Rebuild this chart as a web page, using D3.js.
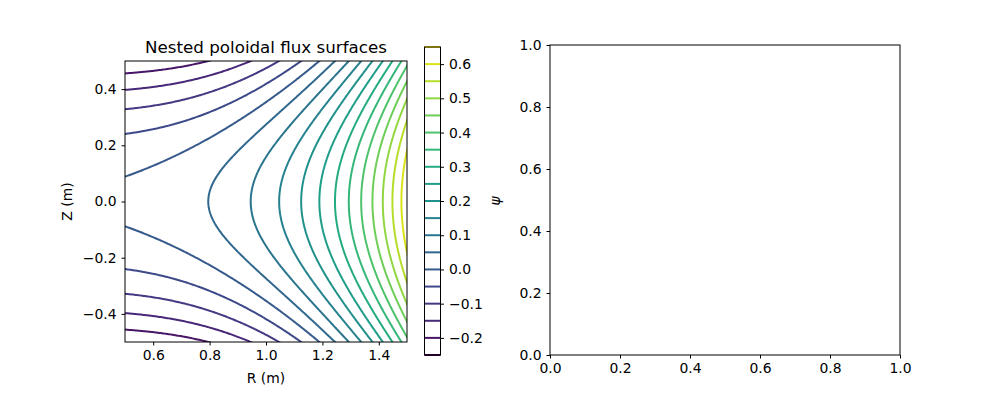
<!DOCTYPE html>
<html><head><meta charset="utf-8">
<script src="https://cdn.jsdelivr.net/npm/d3@7"></script>
<style>body{margin:0;background:#fff}text{font-family:"DejaVu Sans";fill:#000}</style>
</head><body><svg id="c" width="1000" height="400"></svg>
<script>
// psi(R,Z) = R^4/8 - Z^2 sampled on a grid
const levels = d3.range(-0.25, 0.651, 0.05).map(v => +v.toFixed(2));
const rTicks = [0.6, 0.8, 1.0, 1.2, 1.4];
const zTicks = [-0.4, -0.2, 0.0, 0.2, 0.4];
const cbTicks = [-0.2, -0.1, 0.0, 0.1, 0.2, 0.3, 0.4, 0.5, 0.6];
const rightTicks = [0, 0.2, 0.4, 0.6, 0.8, 1.0];

const svg = d3.select('#c');
const fmt = d => d3.format('.1f')(d).replace('-', '\u2212');
const fs = '13.9px';

const L = {x0: 125, x1: 407, y0: 61, y1: 342};
const x = d3.scaleLinear().domain([0.5, 1.5]).range([L.x0, L.x1]);
const y = d3.scaleLinear().domain([-0.5, 0.5]).range([L.y1, L.y0]);
const color = d3.scaleSequential(d3.interpolateViridis).domain([-0.25, 0.65]);

// grid extends beyond the axes so polygon borders get clipped away
const nx = 301, ny = 301, R0 = 0.3, R1 = 1.7, Z0 = -0.7, Z1 = 0.7;
const dR = (R1 - R0) / (nx - 1), dZ = (Z1 - Z0) / (ny - 1);
const vals = new Float64Array(nx * ny);
for (let j = 0; j < ny; j++) for (let i = 0; i < nx; i++) {
  const R = R0 + i * dR, Z = Z0 + j * dZ;
  vals[j * nx + i] = R ** 4 / 8 - Z * Z;
}
const conts = d3.contours().size([nx, ny]).smooth(true).thresholds(levels)(vals);
const proj = d3.geoTransform({point: function(px, py) {
  this.stream.point(x(R0 + (px - 0.5) * dR), y(Z0 + (py - 0.5) * dZ));
}});
const path = d3.geoPath(proj);

svg.append('clipPath').attr('id', 'clip').append('rect')
  .attr('x', L.x0).attr('y', L.y0).attr('width', L.x1 - L.x0).attr('height', L.y1 - L.y0);
svg.append('g').attr('clip-path', 'url(#clip)')
  .selectAll('path').data(conts).enter().append('path')
  .attr('d', path).attr('fill', 'none')
  .attr('stroke', d => color(d.value)).attr('stroke-width', 2);

svg.append('rect').attr('x', L.x0).attr('y', L.y0).attr('width', L.x1 - L.x0).attr('height', L.y1 - L.y0)
  .attr('fill', 'none').attr('stroke', '#000').attr('stroke-width', 1);

function axes(g, sx, sy, xt, yt, xb, yl) {
  const ax = g.append('g').attr('transform', `translate(0,${xb})`)
    .call(d3.axisBottom(sx).tickValues(xt).tickFormat(fmt).tickSize(3.5).tickPadding(5));
  const ay = g.append('g').attr('transform', `translate(${yl},0)`)
    .call(d3.axisLeft(sy).tickValues(yt).tickFormat(fmt).tickSize(3.5).tickPadding(5));
  [ax, ay].forEach(a => { a.select('.domain').remove(); a.selectAll('text').style('font-size', fs).attr('font-family', 'DejaVu Sans'); });
}
axes(svg, x, y, rTicks, zTicks, L.y1, L.x0);

svg.append('text').attr('x', (L.x0 + L.x1) / 2).attr('y', 53).attr('text-anchor', 'middle')
  .style('font-size', '16.7px').text('Nested poloidal flux surfaces');
svg.append('text').attr('x', (L.x0 + L.x1) / 2).attr('y', 383).attr('text-anchor', 'middle')
  .style('font-size', fs).text('R (m)');
svg.append('text').attr('transform', `translate(72,${(L.y0 + L.y1) / 2}) rotate(-90)`).attr('text-anchor', 'middle')
  .style('font-size', fs).text('Z (m)');

// colorbar
const C = {x0: 424.5, x1: 440.5, y0: 47, y1: 355};
const cy = d3.scaleLinear().domain([-0.25, 0.65]).range([C.y1, C.y0]);
svg.append('g').selectAll('line').data(levels).enter().append('line')
  .attr('x1', C.x0).attr('x2', C.x1).attr('y1', d => cy(d)).attr('y2', d => cy(d))
  .attr('stroke', d => color(d)).attr('stroke-width', 2);
svg.append('rect').attr('x', C.x0).attr('y', C.y0).attr('width', C.x1 - C.x0).attr('height', C.y1 - C.y0)
  .attr('fill', 'none').attr('stroke', '#000').attr('stroke-width', 1);
const cax = svg.append('g').attr('transform', `translate(${C.x1},0)`)
  .call(d3.axisRight(cy).tickValues(cbTicks).tickFormat(fmt).tickSize(3.5).tickPadding(5));
cax.select('.domain').remove();
cax.selectAll('text').style('font-size', fs);
svg.append('text').attr('transform', `translate(500,${(C.y0 + C.y1) / 2}) rotate(-90)`).attr('text-anchor', 'middle')
  .style('font-size', fs).style('font-style', 'italic').text('\u03c8');

// right empty axes
const P = {x0: 550, x1: 900, y0: 45, y1: 355};
const px = d3.scaleLinear().domain([0, 1]).range([P.x0, P.x1]);
const py = d3.scaleLinear().domain([0, 1]).range([P.y1, P.y0]);
svg.append('rect').attr('x', P.x0).attr('y', P.y0).attr('width', P.x1 - P.x0).attr('height', P.y1 - P.y0)
  .attr('fill', 'none').attr('stroke', '#000').attr('stroke-width', 1);
axes(svg, px, py, rightTicks, rightTicks, P.y1, P.x0);
</script></body></html>
